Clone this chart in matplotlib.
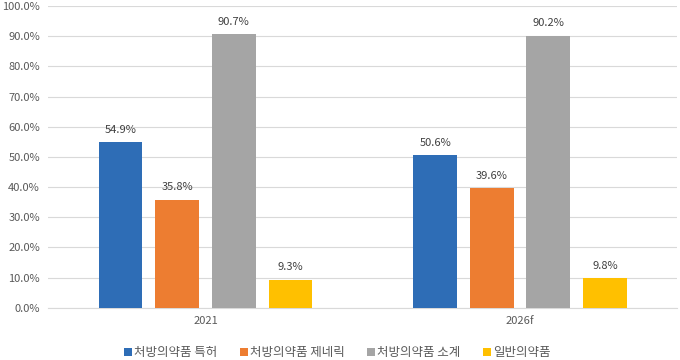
import numpy as np
import matplotlib.pyplot as plt
from matplotlib.ticker import FuncFormatter

plt.rcParams['font.family'] = ['Noto Sans CJK KR', 'DejaVu Sans']

years = ['2021', '2026f']
series = ['처방의약품 특허', '처방의약품 제네릭', '처방의약품 소계', '일반의약품']
values = {
    '처방의약품 특허': [54.9, 50.6],
    '처방의약품 제네릭': [35.8, 39.6],
    '처방의약품 소계': [90.7, 90.2],
    '일반의약품': [9.3, 9.8],
}
colors = ['#2E6DB6', '#ED7D31', '#A5A5A5', '#FFC000']

fig = plt.figure(figsize=(6.8, 3.6), dpi=100)
ax = fig.add_axes([0.071, 0.145, 0.925, 0.838])

x = np.arange(len(years))
w = 0.139
step = 0.18
for i, s in enumerate(series):
    pos = x + (i - 1.5) * step
    bars = ax.bar(pos, values[s], width=w, color=colors[i], label=s, zorder=3)
    for b, v in zip(bars, values[s]):
        ax.text(b.get_x() + b.get_width() / 2, v + 2.5, f'{v:.1f}%',
                ha='center', va='bottom', fontsize=8, color='#404040')

ax.set_xlim(-0.5, 1.5)
ax.set_ylim(0, 100)
ax.set_yticks(np.arange(0, 101, 10))
ax.yaxis.set_major_formatter(FuncFormatter(lambda v, p: f'{v:.1f}%'))
ax.set_xticks(x)
ax.set_xticklabels(years)
ax.grid(axis='y', color='#D9D9D9', linewidth=0.8, zorder=0)
for sp in ['top', 'right', 'left']:
    ax.spines[sp].set_visible(False)
ax.spines['bottom'].set_color('#D9D9D9')
ax.tick_params(axis='both', length=0, labelsize=8, colors='#595959', pad=6)

ax.legend(loc='upper center', bbox_to_anchor=(0.46, -0.09), ncol=4, frameon=False,
          fontsize=9, handlelength=0.6, handleheight=0.6, handletextpad=0.2,
          columnspacing=1.8, labelcolor='#595959')

plt.savefig('out.png', dpi=100)
